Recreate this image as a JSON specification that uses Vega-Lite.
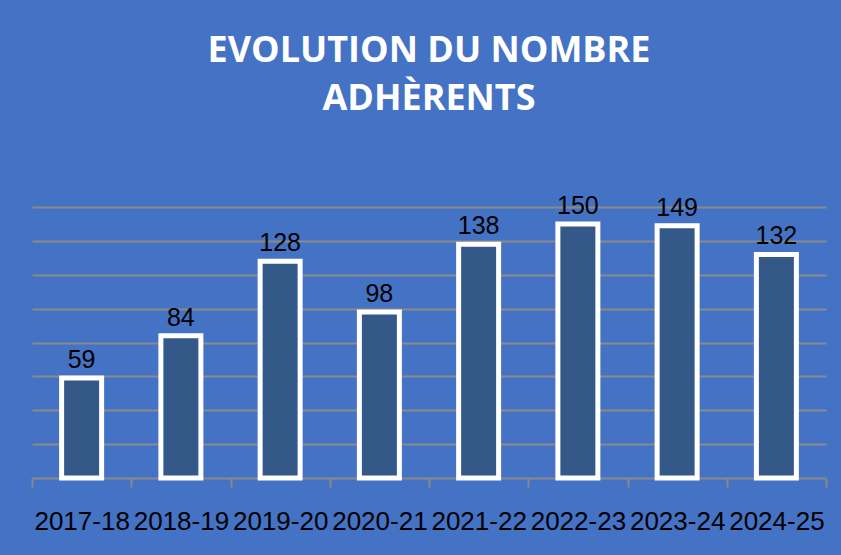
{
  "$schema": "https://vega.github.io/schema/vega-lite/v6.json",
  "width": 794,
  "height": 271,
  "autosize": {"type": "none"},
  "padding": {"left": 32, "top": 207, "right": 15, "bottom": 77},
  "background": "#4472C4",
  "title": {
    "text": ["EVOLUTION DU NOMBRE", "ADHÈRENTS"],
    "font": "Open Sans",
    "fontSize": 36,
    "fontWeight": "bold",
    "color": "white",
    "anchor": "middle",
    "lineHeight": 48,
    "offset": 76
  },
  "data": {
    "values": [
      {"saison": "2017-18", "adherents": 59},
      {"saison": "2018-19", "adherents": 84},
      {"saison": "2019-20", "adherents": 128},
      {"saison": "2020-21", "adherents": 98},
      {"saison": "2021-22", "adherents": 138},
      {"saison": "2022-23", "adherents": 150},
      {"saison": "2023-24", "adherents": 149},
      {"saison": "2024-25", "adherents": 132}
    ]
  },
  "config": {
    "view": {"stroke": null},
    "font": "Liberation Sans"
  },
  "encoding": {
    "x": {
      "field": "saison",
      "type": "nominal",
      "sort": null,
      "scale": {"paddingInner": 0, "paddingOuter": 0},
      "axis": {
        "title": null,
        "labelAngle": 0,
        "labelFont": "Liberation Sans",
        "labelFontSize": 26,
        "labelColor": "black",
        "labelBaseline": "alphabetic",
        "labelPadding": 42,
        "tickBand": "extent",
        "tickSize": 9,
        "tickWidth": 2,
        "tickColor": "#8a8a8a",
        "domainColor": "#8a8a8a",
        "domainWidth": 2,
        "grid": false
      }
    },
    "y": {
      "field": "adherents",
      "type": "quantitative",
      "scale": {"domain": [0, 160], "nice": false},
      "axis": {
        "title": null,
        "labels": false,
        "ticks": false,
        "domain": false,
        "values": [20, 40, 60, 80, 100, 120, 140, 160],
        "gridColor": "#8a8a8a",
        "gridWidth": 2
      }
    }
  },
  "layer": [
    {
      "mark": {"type": "bar", "width": 40, "color": "#345989", "stroke": "white", "strokeWidth": 5}
    },
    {
      "mark": {"type": "text", "baseline": "alphabetic", "dy": -10, "fontSize": 25, "color": "black", "font": "Liberation Sans"},
      "encoding": {"text": {"field": "adherents", "type": "quantitative"}}
    }
  ]
}
